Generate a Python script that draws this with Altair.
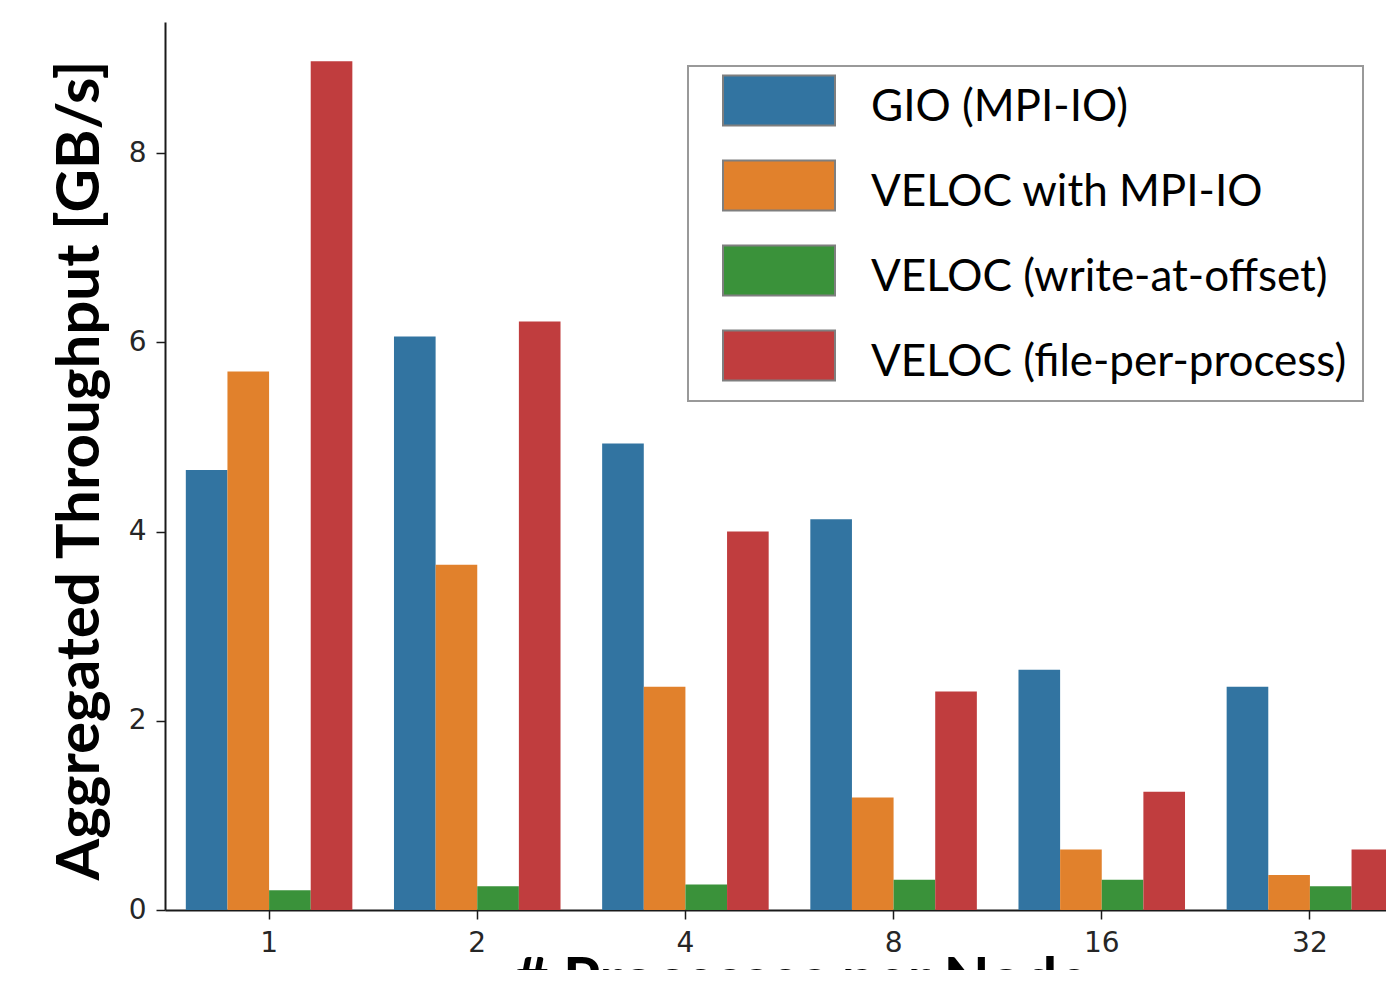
import altair as alt
import pandas as pd

procs = ["1", "2", "4", "8", "16", "32"]
series = ["GIO (MPI-IO)", "VELOC with MPI-IO", "VELOC (write-at-offset)", "VELOC (file-per-process)"]
gio = [4.65, 6.06, 4.93, 4.13, 2.54, 2.36]
veloc_mpi = [5.69, 3.65, 2.36, 1.19, 0.64, 0.37]
veloc_offset = [0.21, 0.25, 0.27, 0.32, 0.32, 0.25]
veloc_fpp = [8.97, 6.22, 4.00, 2.31, 1.25, 0.64]
colors = ["#3274a1", "#e1812c", "#3a923a", "#c03d3e"]
y_ticks = [0, 2, 4, 6, 8]

rows = []
for name, vals in zip(series, [gio, veloc_mpi, veloc_offset, veloc_fpp]):
    for p, v in zip(procs, vals):
        rows.append({"procs": p, "series": name, "value": v})
df = pd.DataFrame(rows)

W = 1221
H = 888

chart = alt.Chart(df).mark_bar().encode(
    x=alt.X("procs:N", sort=procs,
            scale=alt.Scale(range=[0, 1249], paddingInner=0.2, paddingOuter=0.1),
            axis=alt.Axis(title="# Processes per Node", labelAngle=0,
                          titleX=636, titleY=89, titleBaseline="alphabetic", titleAlign="center")),
    xOffset=alt.XOffset("series:N", sort=series,
                        scale=alt.Scale(paddingInner=0, paddingOuter=0)),
    y=alt.Y("value:Q", scale=alt.Scale(domain=[0, 9.385], nice=False),
            axis=alt.Axis(title="Aggregated Throughput [GB/s]", values=y_ticks,
                          titleX=-67, titleY=448, titleAngle=270,
                          titleBaseline="alphabetic", titleAlign="center")),
    color=alt.Color("series:N", sort=series,
                    scale=alt.Scale(domain=series, range=colors),
                    legend=alt.Legend(
                        title=None, orient="none", legendX=523, legendY=44,
                        symbolType="M-0.28,-1.3 L4.2,-1.3 L4.2,0.7 L-0.28,0.7 Z",
                        symbolSize=2500, symbolStrokeColor="#7f7f7f", symbolStrokeWidth=2,
                        symbolOpacity=1,
                        labelFont="Lato", labelFontSize=44, labelColor="#000000",
                        labelOffset=115, labelLimit=1000, rowPadding=26,
                        padding=16, fillColor="#ffffff", strokeColor="#999999")),
).properties(
    width=W, height=H,
    autosize=alt.AutoSizeParams(type="none"),
    padding={"left": 157, "top": 14, "right": 0, "bottom": 60},
).configure_view(stroke=None).configure_axis(
    grid=False, domainColor="#1a1a1a", domainWidth=2, tickColor="#1a1a1a",
    tickWidth=1.5, tickSize=9, labelFont="DejaVu Sans", labelFontSize=28,
    labelColor="#262626", labelPadding=10,
    titleFont="Lato", titleFontSize=60, titleFontWeight="bold", titleColor="#000000",
).configure_legend(strokeWidth=2, cornerRadius=0)

chart.save("out.html", embed_options={"renderer": "svg", "actions": False})
